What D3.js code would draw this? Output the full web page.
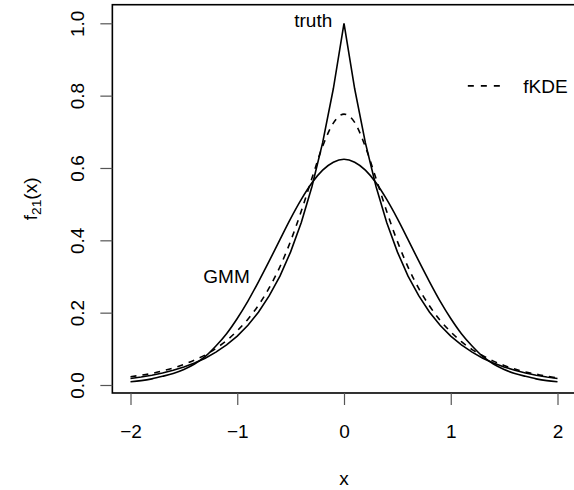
<!DOCTYPE html>
<html lang="en">
<head>
    <meta charset="utf-8">
    <title>f21 density estimates</title>
    <script src="https://cdn.jsdelivr.net/npm/d3@7"></script>
    <style>
        body { margin: 0; background: #fff; }
        text { font-family: "Liberation Sans", Arial, Helvetica, sans-serif; fill: #000; }
    </style>
</head>
<body>
<script>
    // x grid the curves were read at
    var xs = [-2.0, -1.9, -1.8, -1.7, -1.6, -1.5, -1.4, -1.3, -1.2, -1.1, -1.0,
              -0.9, -0.8, -0.7, -0.6, -0.5, -0.4, -0.3, -0.2, -0.1, 0.0,
               0.1, 0.2, 0.3, 0.4, 0.5, 0.6, 0.7, 0.8, 0.9, 1.0,
               1.1, 1.2, 1.3, 1.4, 1.5, 1.6, 1.7, 1.8, 1.9, 2.0];

    var truth = [0.018, 0.022, 0.027, 0.033, 0.041, 0.050, 0.061, 0.074, 0.091, 0.111, 0.135,
                 0.165, 0.202, 0.247, 0.301, 0.368, 0.449, 0.549, 0.670, 0.819, 1.000,
                 0.819, 0.670, 0.549, 0.449, 0.368, 0.301, 0.247, 0.202, 0.165, 0.135,
                 0.111, 0.091, 0.074, 0.061, 0.050, 0.041, 0.033, 0.027, 0.022, 0.018];

    var fkde = [0.023, 0.027, 0.032, 0.039, 0.047, 0.057, 0.069, 0.083, 0.101, 0.123, 0.150,
                0.182, 0.221, 0.269, 0.327, 0.398, 0.481, 0.572, 0.660, 0.724, 0.749,
                0.726, 0.659, 0.571, 0.480, 0.397, 0.326, 0.267, 0.219, 0.179, 0.147,
                0.120, 0.098, 0.081, 0.066, 0.054, 0.044, 0.036, 0.030, 0.024, 0.020];

    var gmm = [0.009, 0.012, 0.017, 0.024, 0.032, 0.043, 0.058, 0.079, 0.108, 0.142, 0.184,
               0.232, 0.286, 0.343, 0.402, 0.460, 0.513, 0.559, 0.594, 0.616, 0.624,
               0.616, 0.594, 0.559, 0.513, 0.460, 0.402, 0.343, 0.286, 0.232, 0.184,
               0.142, 0.108, 0.079, 0.058, 0.043, 0.032, 0.024, 0.017, 0.012, 0.009];

    var xTicks = [-2, -1, 0, 1, 2];
    var yTicks = [0, 0.2, 0.4, 0.6, 0.8, 1.0];

    var w = 574, h = 490;
    var fs = 19;

    var svg = d3.select("body").append("svg")
        .attr("width", w)
        .attr("height", h);

    var x = d3.scaleLinear().domain([-2, 2]).range([130.5, 557.5]);
    var y = d3.scaleLinear().domain([0, 1]).range([385, 23.3]);

    // plot box (R extends ranges by 4%), right side runs off the picture
    var bx0 = x(-2.17), bx1 = x(2.175), by0 = y(-0.0221), by1 = y(1.0514);
    svg.append("rect")
        .attr("x", bx0).attr("y", by1)
        .attr("width", bx1 - bx0).attr("height", by0 - by1)
        .attr("fill", "none").attr("stroke", "#000").attr("stroke-width", 1.6);

    // x axis
    var gx = svg.append("g")
        .attr("transform", "translate(0," + by0 + ")")
        .call(d3.axisBottom(x).tickValues(xTicks).tickFormat(d3.format("d")).tickSize(12).tickSizeOuter(0));
    gx.select(".domain").remove();
    gx.selectAll("line").attr("stroke", "#555").attr("stroke-width", 1.2);
    gx.selectAll("text")
        .attr("y", 45.5).attr("dy", 0)
        .attr("font-size", fs + "px")
        .attr("font-family", null);

    // y axis, labels rotated as in base R
    var gy = svg.append("g")
        .attr("transform", "translate(" + bx0 + ",0)")
        .call(d3.axisLeft(y).tickValues(yTicks).tickFormat(d3.format(".1f")).tickSize(12).tickSizeOuter(0));
    gy.select(".domain").remove();
    gy.selectAll("line").attr("stroke", "#555").attr("stroke-width", 1.2);
    gy.selectAll("text")
        .attr("x", 0).attr("dy", 0)
        .attr("text-anchor", "middle")
        .attr("transform", "translate(-28,0) rotate(-90)")
        .attr("font-size", fs + "px")
        .attr("font-family", null);

    // axis titles
    svg.append("text")
        .attr("x", x(0)).attr("y", 485)
        .attr("text-anchor", "middle")
        .attr("font-size", fs + "px")
        .text("x");

    var yt = svg.append("text")
        .attr("transform", "translate(37," + ((by0 + by1) / 2) + ") rotate(-90)")
        .attr("text-anchor", "middle")
        .attr("font-size", fs + "px");
    yt.append("tspan").text("f");
    yt.append("tspan").attr("font-size", (fs * 0.72) + "px").attr("dy", "0.3em").text("21");
    yt.append("tspan").attr("dy", "-0.22em").text("(x)");

    // curves
    function lineFor(vals, curve) {
        return d3.line()
            .x(function (d, i) { return x(xs[i]); })
            .y(function (d) { return y(d); })
            .curve(curve)(vals);
    }

    svg.append("path")
        .attr("d", lineFor(truth, d3.curveLinear))
        .attr("fill", "none").attr("stroke", "#000").attr("stroke-width", 1.6);

    svg.append("path")
        .attr("d", lineFor(gmm, d3.curveMonotoneX))
        .attr("fill", "none").attr("stroke", "#000").attr("stroke-width", 1.6);

    svg.append("path")
        .attr("d", lineFor(fkde, d3.curveMonotoneX))
        .attr("fill", "none").attr("stroke", "#000").attr("stroke-width", 1.6)
        .attr("stroke-dasharray", "6,6");

    // curve labels
    svg.append("text")
        .attr("x", x(-0.11)).attr("y", y(0.99))
        .attr("text-anchor", "end")
        .attr("font-size", fs + "px")
        .text("truth");

    svg.append("text")
        .attr("x", x(-1.1)).attr("y", y(0.3))
        .attr("dy", "0.36em")
        .attr("text-anchor", "middle")
        .attr("font-size", fs + "px")
        .text("GMM");

    // legend
    var ly = y(0.827);
    svg.append("line")
        .attr("x1", x(1.16)).attr("x2", x(1.5))
        .attr("y1", ly).attr("y2", ly)
        .attr("stroke", "#000").attr("stroke-width", 1.6)
        .attr("stroke-dasharray", "6,7");
    svg.append("text")
        .attr("x", x(1.68)).attr("y", ly)
        .attr("dy", "0.36em")
        .attr("font-size", fs + "px")
        .text("fKDE");
</script>
</body>
</html>
